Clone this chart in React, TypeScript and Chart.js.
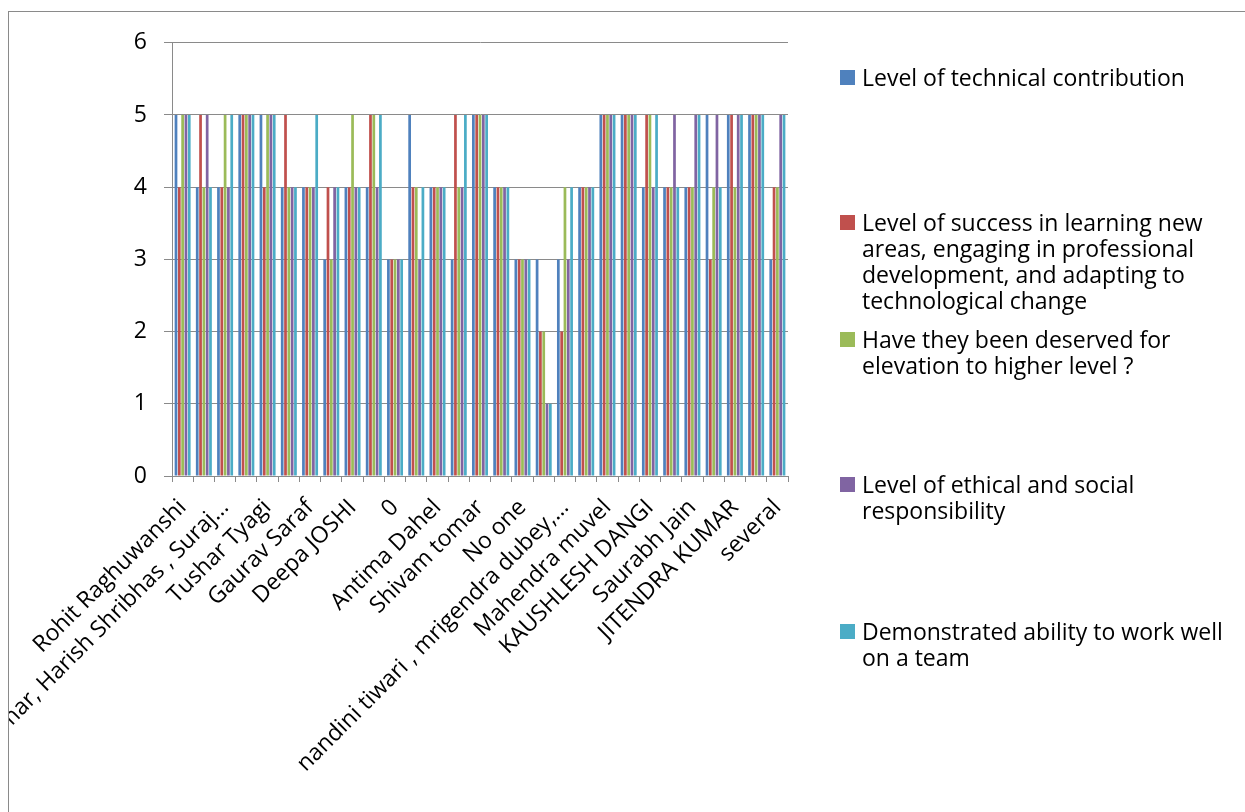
import React, { useEffect, useRef } from "react";
import { Chart, registerables } from "chart.js";

Chart.register(...registerables);

// Category names (only every other label is legible in the source; the rest are left blank)
const categories: string[] = [
  "Rohit Raghuwanshi", "",
  "Tomar, Harish Shribhas , Suraj…", "",
  "Tushar Tyagi", "",
  "Gaurav Saraf", "",
  "Deepa JOSHI", "",
  "0", "",
  "Antima Dahel", "",
  "Shivam tomar", "",
  "No one", "",
  "nandini tiwari , mrigendra dubey,…", "",
  "Mahendra muvel", "",
  "KAUSHLESH DANGI", "",
  "Saurabh Jain", "",
  "JITENDRA KUMAR", "",
  "several",
];

const seriesNames: string[] = [
  "Level of technical contribution",
  "Level of success in learning new areas, engaging in professional development, and adapting to technological change",
  "Have they been deserved for elevation to higher level ?",
  "Level of ethical and social responsibility",
  "Demonstrated ability to work well on a team",
];

const technical = [5, 4, 4, 5, 5, 4, 4, 3, 4, 4, 3, 5, 4, 3, 5, 4, 3, 3, 3, 4, 5, 5, 4, 4, 4, 5, 5, 5, 3];
const learning = [4, 5, 4, 5, 4, 5, 4, 4, 4, 5, 3, 4, 4, 5, 5, 4, 3, 2, 2, 4, 5, 5, 5, 4, 4, 3, 5, 5, 4];
const elevation = [5, 4, 5, 5, 5, 4, 4, 3, 5, 5, 3, 4, 4, 4, 5, 4, 3, 2, 4, 4, 5, 5, 5, 4, 4, 4, 4, 5, 4];
const ethical = [5, 5, 4, 5, 5, 4, 4, 4, 4, 4, 3, 3, 4, 4, 5, 4, 3, 1, 3, 4, 5, 5, 4, 5, 5, 5, 5, 5, 5];
const teamwork = [5, 4, 5, 5, 5, 4, 5, 4, 4, 5, 3, 4, 4, 5, 5, 4, 3, 1, 4, 4, 5, 5, 5, 4, 5, 4, 5, 5, 5];

const yTicks = [0, 1, 2, 3, 4, 5, 6];

const colors = ["#4F81BD", "#C0504D", "#9BBB59", "#8064A2", "#4BACC6"];
const seriesValues = [technical, learning, elevation, ethical, teamwork];

// legend item tops, relative to the chart frame
const legendTops = [52, 197, 314, 459, 606];

const FONT = "'Open Sans', sans-serif";
const FONT_SIZE = 23;

export default function App() {
  const canvasRef = useRef<HTMLCanvasElement | null>(null);

  useEffect(() => {
    const canvas = canvasRef.current;
    if (!canvas) return;
    const chart = new Chart(canvas, {
      type: "bar",
      data: {
        labels: categories,
        datasets: seriesNames.map((name, i) => ({
          label: name,
          data: seriesValues[i],
          backgroundColor: colors[i],
          borderWidth: 0,
          categoryPercentage: 0.78,
          barPercentage: 0.82,
        })),
      },
      options: {
        responsive: false,
        animation: false,
        layout: {
          autoPadding: false,
          padding: { left: 0, top: 29, right: 457, bottom: 0 },
        },
        plugins: {
          legend: { display: false },
          tooltip: { enabled: false },
          title: { display: false },
        },
        scales: {
          x: {
            type: "category",
            offset: true,
            grid: {
              display: true,
              offset: true,
              drawOnChartArea: false,
              drawTicks: true,
              tickLength: 6,
              color: "#8a8a8a",
            },
            border: { display: true, color: "#8a8a8a", width: 1 },
            ticks: {
              autoSkip: false,
              minRotation: 45,
              maxRotation: 45,
              padding: 12,
              color: "#000",
              font: { family: FONT, size: FONT_SIZE },
              callback: (_v: any, idx: number) => categories[idx],
            },
            afterFit: (scale: any) => {
              scale.height = 336;
            },
          },
          y: {
            min: 0,
            max: 6,
            afterBuildTicks: (scale: any) => {
              scale.ticks = yTicks.map((v) => ({ value: v }));
            },
            grid: {
              color: "#8a8a8a",
              drawTicks: true,
              tickLength: 8,
            },
            border: { display: true, color: "#8a8a8a", width: 1 },
            ticks: {
              padding: 17,
              color: "#000",
              font: { family: FONT, size: FONT_SIZE },
            },
            afterFit: (scale: any) => {
              scale.width = 163;
            },
          },
        },
      },
    });
    return () => chart.destroy();
  }, []);

  return (
    <div
      style={{
        position: "absolute",
        left: 8,
        top: 11,
        width: 1236,
        height: 800,
        borderLeft: "1px solid #8a8a8a",
        borderTop: "1px solid #8a8a8a",
        overflow: "hidden",
        background: "#fff",
      }}
    >
      <canvas ref={canvasRef} width={1236} height={800} style={{ display: "block" }} />
      {seriesNames.map((name, i) => (
        <div
          key={i}
          style={{
            position: "absolute",
            left: 831,
            top: legendTops[i],
            display: "flex",
            alignItems: "flex-start",
            fontFamily: FONT,
            fontSize: FONT_SIZE,
            lineHeight: "26px",
            color: "#000",
          }}
        >
          <span
            style={{
              display: "inline-block",
              width: 15,
              height: 15,
              marginTop: 6,
              marginRight: 7,
              background: colors[i],
              flex: "none",
            }}
          />
          <span style={{ width: 385 }}>{name}</span>
        </div>
      ))}
    </div>
  );
}
